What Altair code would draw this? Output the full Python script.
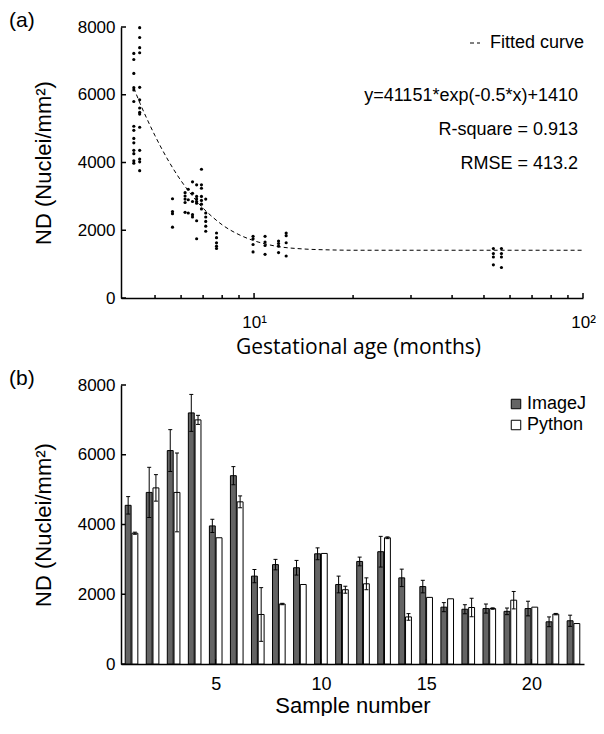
import altair as alt
import pandas as pd

# ---------------- Panel (a) data ----------------
group_ages = [4.31, 4.49, 5.65, 6.17, 6.31, 6.50, 6.69, 6.92, 7.13, 7.69,
              9.93, 10.8, 11.87, 12.52, 53.4, 56.5]
group_nd = [
    [7220, 7040, 6630, 6210, 6140, 5800, 5070, 4950, 4710, 4580, 4360, 4260, 4050, 3980],
    [7980, 7690, 7390, 7240, 6220, 5850, 5610, 5480, 5430, 5040, 4360, 4100, 4020, 3760],
    [2930, 2550, 2490, 2090],
    [3110, 3010, 2920, 2820, 2530],
    [3210, 2900, 2510],
    [3430, 3090, 2850, 2460, 2390],
    [3340, 3000, 2920, 2850, 2800, 2280, 1750],
    [3800, 3340, 3240, 3000, 2880, 2770, 2630],
    [2920, 2510, 2390, 2260, 2120, 1970],
    [1920, 1780, 1630, 1530, 1460],
    [1820, 1750, 1580, 1360],
    [1820, 1650, 1550, 1290],
    [1680, 1610, 1530, 1340],
    [1920, 1840, 1630, 1240],
    [1460, 1310, 1210, 980],
    [1460, 1310, 1210, 900],
]
fit_age = [4.31, 4.5, 4.75, 5, 5.5, 6, 6.5, 7, 7.5, 8, 9, 10, 11, 12, 14, 17, 20, 30, 50, 100]
fit_nd = [6200, 5750, 5240, 4790, 4040, 3460, 3010, 2650, 2380, 2160, 1870, 1690,
          1580, 1510, 1450, 1420, 1410, 1410, 1410, 1410]
fit_name = "Fitted curve"
annotations = ["y=41151*exp(-0.5*x)+1410", "R-square = 0.913", "RMSE = 413.2"]
nd_ticks = [0, 2000, 4000, 6000, 8000]
age_major = [10, 100]
age_minor = [5, 6, 7, 8, 9, 20, 30, 40, 50, 60, 70, 80, 90]

# ---------------- Panel (b) data ----------------
samples = list(range(1, 23))
imagej_mean = [4550, 4920, 6120, 7200, 3960, 5400, 2520, 2850, 2760, 3160, 2280,
               2940, 3220, 2470, 2220, 1630, 1570, 1590, 1510, 1590, 1210, 1240]
imagej_err = [250, 720, 600, 530, 190, 260, 190, 150, 210, 170, 240,
              125, 440, 250, 180, 130, 130, 130, 95, 210, 140, 160]
python_mean = [3750, 5050, 4920, 7000, 3620, 4650, 1420, 1720, 2280, 3170, 2130,
               2300, 3620, 1350, 1910, 1870, 1620, 1590, 1830, 1630, 1430, 1160]
python_err = [30, 380, 1130, 130, 0, 170, 770, 20, 0, 0, 100,
              170, 25, 95, 0, 0, 265, 20, 250, 0, 20, 0]
sample_ticks = [5, 10, 15, 20]

FONT = "Liberation Sans"
W_A, H_A = 462, 271
W_B, H_B = 463, 279

# ---------------- tables ----------------
pts = pd.DataFrame(
    [{"age": a, "nd": v} for a, vals in zip(group_ages, group_nd) for v in vals]
)
fit = pd.DataFrame({"age": fit_age, "nd": fit_nd, "name": fit_name})

rows = []
for s, m, e in zip(samples, imagej_mean, imagej_err):
    rows.append({"sample": s, "series": "ImageJ", "mean": m, "err": e})
for s, m, e in zip(samples, python_mean, python_err):
    rows.append({"sample": s, "series": "Python", "mean": m, "err": e})
bars_df = pd.DataFrame(rows)

# ---------------- shared scales / axes ----------------
x_scale_a = alt.Scale(type="log", domain=[3.94, 100], nice=False)
y_scale = alt.Scale(domain=[0, 8000], nice=False, zero=True)
x_scale_b = alt.Scale(domain=[0.5, 22.5], nice=False, zero=False)

y_axis = alt.Axis(values=nd_ticks, format="d", title="ND (Nuclei/mm²)", ticks=False,
                  grid=False, labelFontSize=17, labelPadding=6, titleFontSize=22,
                  titlePadding=22, domainColor="black", domainWidth=1.5)
x_axis_a = alt.Axis(values=age_major,
                    labelExpr="datum.value == 10 ? '10¹' : '10²'",
                    title="Gestational age (months)", titleFont="Open Sans",
                    titleFontSize=21, labelFontSize=17, labelPadding=16,
                    titlePadding=6, titleX=W_A / 2 + 6, ticks=False, grid=False,
                    labelFlush=False, domainColor="black", domainWidth=1.5)
x_axis_b = alt.Axis(values=sample_ticks, format="d", title="Sample number",
                    labelFontSize=18, labelPadding=11, titleFontSize=22,
                    titlePadding=2, ticks=False, grid=False, labelFlush=False,
                    domainColor="black", domainWidth=1.5)

def XA(f):
    return alt.X(f, scale=x_scale_a, axis=x_axis_a)

def YY(f):
    return alt.Y(f, scale=y_scale, axis=y_axis)

def XB(f):
    return alt.X(f, scale=x_scale_b, axis=x_axis_b)

# ---------------- Panel (a) ----------------
points = alt.Chart(pts).mark_circle(size=10, color="black", opacity=1).encode(
    x=XA("age:Q"), y=YY("nd:Q"))

curve = alt.Chart(fit).mark_line(color="black", strokeWidth=1, interpolate="monotone").encode(
    x=XA("age:Q"),
    y=YY("nd:Q"),
    strokeDash=alt.StrokeDash(
        "name:N",
        scale=alt.Scale(domain=[fit_name], range=[[4, 3]]),
        legend=alt.Legend(title=None, orient="none", legendX=345, legendY=7, padding=0,
                          labelFontSize=18, labelFont=FONT, labelOffset=6,
                          symbolType="stroke", symbolSize=100, symbolStrokeWidth=1,
                          symbolStrokeColor="black"),
    ),
)

yt_a = alt.Chart(pd.DataFrame({"nd": nd_ticks})).mark_rule(color="black", strokeWidth=1.5).encode(
    y=YY("nd:Q"), x=alt.value(0), x2=alt.value(5))
xt_major = alt.Chart(pd.DataFrame({"age": age_major})).mark_rule(color="black", strokeWidth=1.5).encode(
    x=XA("age:Q"), y=alt.value(H_A), y2=alt.value(H_A - 5))
xt_minor = alt.Chart(pd.DataFrame({"age": age_minor})).mark_rule(color="black", strokeWidth=1.5).encode(
    x=XA("age:Q"), y=alt.value(H_A), y2=alt.value(H_A - 3))

ann_layers = []
for i, t in enumerate(annotations):
    ann_layers.append(
        alt.Chart(pd.DataFrame({"t": [t]})).mark_text(
            align="right", baseline="middle", fontSize=18, font=FONT, color="black"
        ).encode(text="t:N", x=alt.value(W_A - 5), y=alt.value(69 + 34 * i))
    )

label_a = alt.Chart(pd.DataFrame({"t": ["(a)"]})).mark_text(
    align="left", baseline="top", fontSize=21, font=FONT, color="black"
).encode(text="t:N", x=alt.value(-112), y=alt.value(-17))

top = alt.layer(points, curve, yt_a, xt_major, xt_minor, *ann_layers, label_a).properties(
    width=W_A, height=H_A)

# ---------------- Panel (b) ----------------
base = alt.Chart(bars_df).transform_calculate(
    x0="datum.series == 'ImageJ' ? datum.sample - 0.30 : datum.sample + 0.02",
    x1="datum.series == 'ImageJ' ? datum.sample - 0.02 : datum.sample + 0.30",
    xe="datum.series == 'ImageJ' ? datum.sample - 0.16 : datum.sample + 0.16",
    lo="datum.mean - datum.err",
    hi="datum.mean + datum.err",
    zero="0",
)

bars = base.mark_rect(stroke="black", strokeWidth=1).encode(
    x=XB("x0:Q"),
    x2="x1:Q",
    y=YY("mean:Q"),
    y2="zero:Q",
    fill=alt.Fill("series:N",
                  scale=alt.Scale(domain=["ImageJ", "Python"], range=["#646464", "#ffffff"]),
                  legend=alt.Legend(title=None, orient="none", legendX=386, legendY=10,
                                    padding=0, labelFontSize=18, labelFont=FONT,
                                    labelOffset=2, symbolType="square", symbolSize=90,
                                    symbolStrokeColor="black", symbolStrokeWidth=1,
                                    rowPadding=3)),
)

errs = base.transform_filter("datum.err > 0")
err_rule = errs.mark_rule(color="black", strokeWidth=1).encode(
    x=XB("xe:Q"), y=YY("lo:Q"), y2="hi:Q")
cap_hi = errs.mark_tick(orient="horizontal", size=4, thickness=1, color="black", opacity=1).encode(
    x=XB("xe:Q"), y=YY("hi:Q"))
cap_lo = errs.mark_tick(orient="horizontal", size=4, thickness=1, color="black", opacity=1).encode(
    x=XB("xe:Q"), y=YY("lo:Q"))

yt_b = alt.Chart(pd.DataFrame({"mean": nd_ticks})).mark_rule(color="black", strokeWidth=1.5).encode(
    y=YY("mean:Q"), x=alt.value(0), x2=alt.value(5))
xt_b = alt.Chart(pd.DataFrame({"x0": sample_ticks})).mark_rule(color="black", strokeWidth=1.5).encode(
    x=XB("x0:Q"), y=alt.value(H_B), y2=alt.value(H_B - 5))

label_b = alt.Chart(pd.DataFrame({"t": ["(b)"]})).mark_text(
    align="left", baseline="top", fontSize=21, font=FONT, color="black"
).encode(text="t:N", x=alt.value(-112), y=alt.value(-17))

bottom = alt.layer(yt_b, xt_b, bars, err_rule, cap_hi, cap_lo, label_b).properties(
    width=W_B, height=H_B)

chart = alt.vconcat(top, bottom, spacing=11).resolve_legend(
    strokeDash="independent", fill="independent"
).properties(
    padding={"left": 1, "top": 2, "right": 0, "bottom": 0}
).configure_view(stroke=None).configure_axis(
    labelFont=FONT, titleFont=FONT, labelColor="black", titleColor="black",
    titleFontWeight="normal"
).configure_legend(labelColor="black")

chart.save("out.html", embed_options={"renderer": "svg", "actions": False})
